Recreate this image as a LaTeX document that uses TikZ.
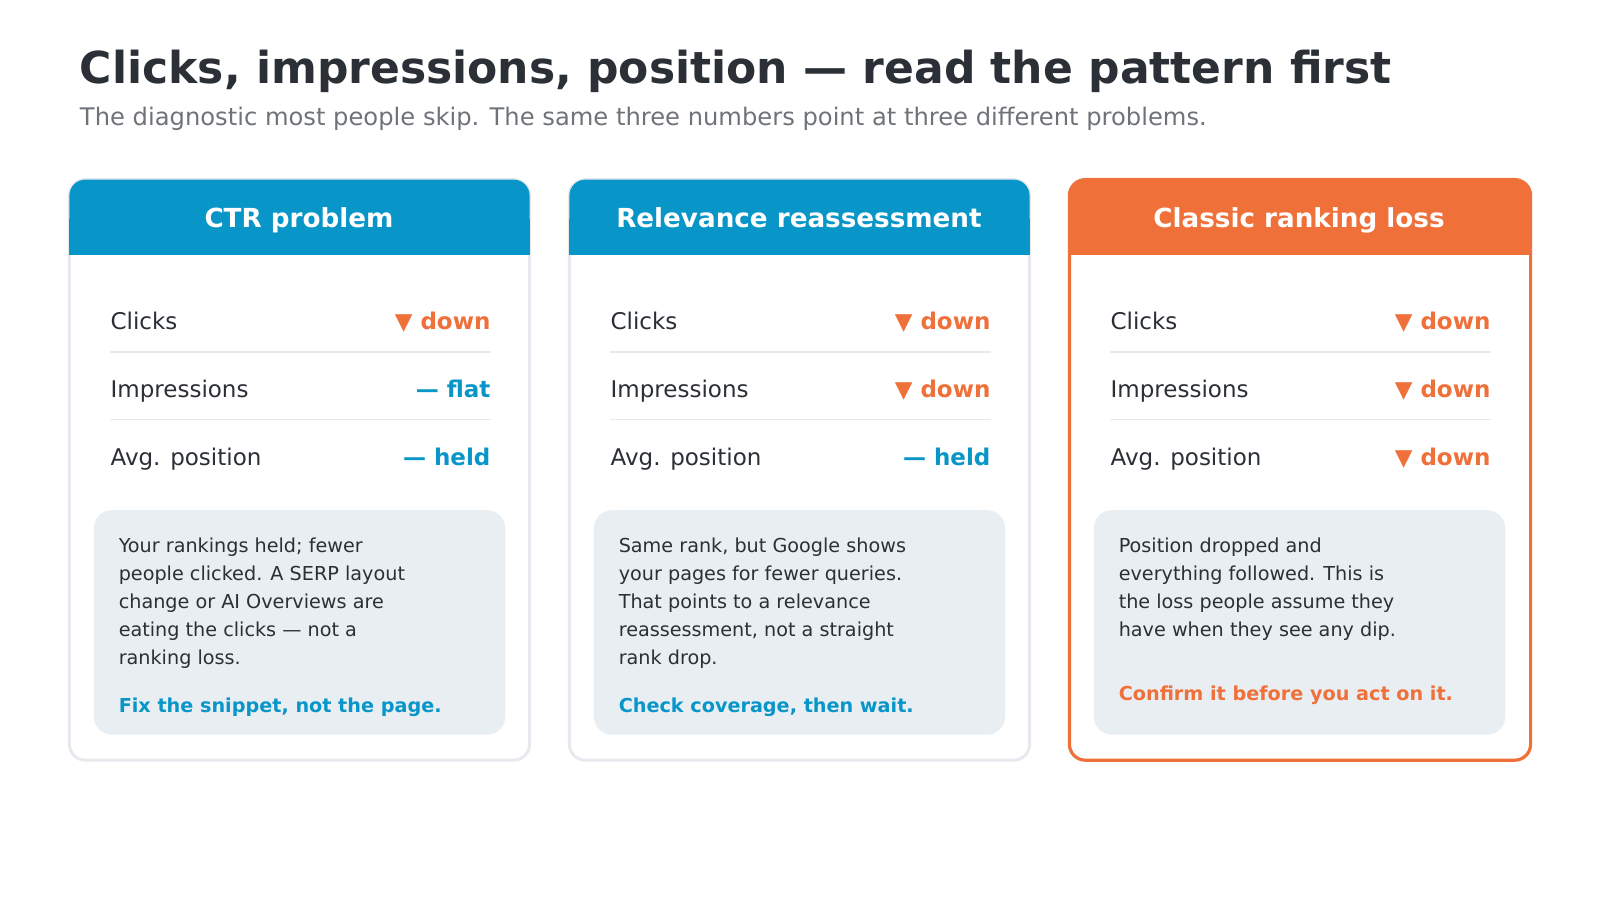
\documentclass[tikz,border=0pt]{standalone}
\usepackage{fontspec}
\setmainfont{DejaVu Sans}
\usetikzlibrary{positioning}
\definecolor{blu}{HTML}{0896C8}
\definecolor{orn}{HTML}{F0703A}
\definecolor{ink}{HTML}{2B2F36}
\definecolor{sub}{HTML}{6E7379}
\definecolor{notebg}{HTML}{E9EEF3}
\definecolor{rim}{HTML}{E6EAEE}
\tikzset{
  card/.style={draw=rim, line width=1.5pt, rounded corners=8pt, fill=white},
  head/.style={anchor=base, inner sep=0pt, font=\bfseries\fontsize{13.1}{16}\selectfont, text=white},
  lbl/.style={anchor=base west, inner sep=0pt, font=\fontsize{11.5}{14}\selectfont, text=ink},
  val/.style={anchor=base east, inner sep=0pt, font=\bfseries\fontsize{11.5}{14}\selectfont},
  sep/.style={draw=rim, line width=0.8pt},
  note/.style={anchor=north west, align=left, inner sep=0pt, font=\fontsize{9.6}{14}\selectfont, text=ink},
  act/.style={anchor=base west, inner sep=0pt, font=\bfseries\fontsize{9.6}{14}\selectfont}
}
\newcommand{\dn}{▼ down}
\begin{document}
\begin{tikzpicture}[x=0.51pt, y=-0.51pt]
\useasboundingbox (0,0) rectangle (1568,882);
% title
\node[anchor=base west, inner sep=0pt, font=\bfseries\fontsize{22}{27}\selectfont, text=ink] (title) at (78,82) {Clicks, impressions, position — read the pattern first};
\node[anchor=base west, inner sep=0pt, font=\fontsize{12.1}{15}\selectfont, text=sub] (subtitle) at (78,123) {The diagnostic most people skip. The same three numbers point at three different problems.};

% cards
\foreach \i/\x/\col/\name in {1/68/blu/CTR problem, 2/558/blu/Relevance reassessment, 3/1048/orn/Classic ranking loss}{
  \ifnum\i=3
    \draw[card, draw=orn, line width=1.6pt] (\x,176) rectangle (\x+452,745);
  \else
    \draw[card] (\x,176) rectangle (\x+451,745);
  \fi
  \fill[\col, rounded corners=8pt] (\x,176) rectangle (\x+451,230);
  \fill[\col] (\x,215) rectangle (\x+451,250);
  \node[head] (h\i) at (\x+225,223) {\name};
  \node[lbl] (c\i) at (\x+40,323) {Clicks};
  \node[lbl] (m\i) at (\x+40,390) {Impressions};
  \node[lbl] (p\i) at (\x+40,456) {Avg. position};
  \draw[sep] (\x+40,345) -- (\x+413,345);
  \draw[sep] (\x+40,411) -- (\x+413,411);
  \fill[notebg, rounded corners=9pt] (\x+24,500) rectangle (\x+427,720);
}
% values
\node[val, text=orn] (vc1) at (481,323) {\dn};
\node[val, text=blu] (vm1) at (481,390) {— flat};
\node[val, text=blu] (vp1) at (481,456) {— held};
\node[val, text=orn] (vc2) at (971,323) {\dn};
\node[val, text=orn] (vm2) at (971,390) {\dn};
\node[val, text=blu] (vp2) at (971,456) {— held};
\node[val, text=orn] (vc3) at (1461,323) {\dn};
\node[val, text=orn] (vm3) at (1461,390) {\dn};
\node[val, text=orn] (vp3) at (1461,456) {\dn};

% notes
\node[note] (n1) at (116,527) {Your rankings held; fewer\\people clicked. A SERP layout\\change or AI Overviews are\\eating the clicks — not a\\ranking loss.};
\node[note] (n2) at (606,527) {Same rank, but Google shows\\your pages for fewer queries.\\That points to a relevance\\reassessment, not a straight\\rank drop.};
\node[note] (n3) at (1096,527) {Position dropped and\\everything followed. This is\\the loss people assume they\\have when they see any dip.};
\node[act, text=blu] (a1) at (116,698) {Fix the snippet, not the page.};
\node[act, text=blu] (a2) at (606,698) {Check coverage, then wait.};
\node[act, text=orn] (a3) at (1096,686) {Confirm it before you act on it.};
\end{tikzpicture}
\end{document}
